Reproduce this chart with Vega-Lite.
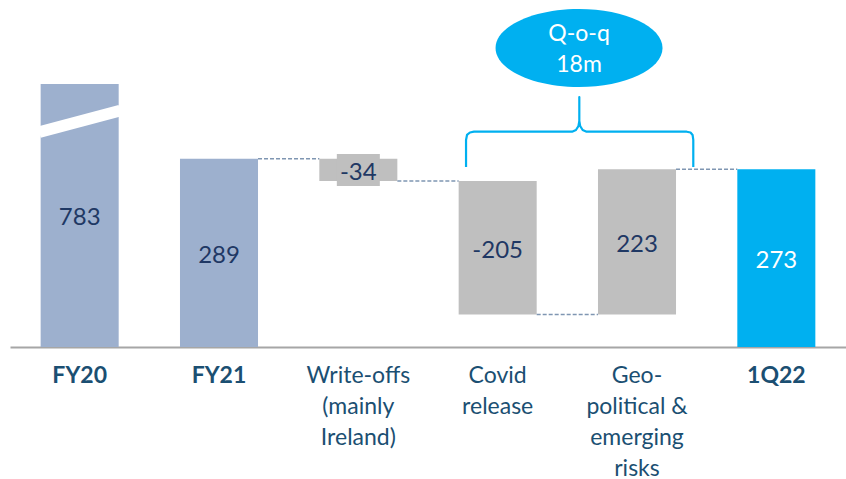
{
  "$schema": "https://vega.github.io/schema/vega-lite/v6.json",
  "width": 836,
  "height": 347,
  "autosize": {"type": "none"},
  "padding": {"left": 10, "top": 0, "right": 0, "bottom": 132},
  "background": "white",
  "config": {
    "view": {"stroke": null},
    "font": "Lato",
    "axis": {
      "domainColor": "#A6A6A6",
      "domainWidth": 2,
      "ticks": false,
      "tickSize": 0,
      "grid": false,
      "labelFont": "Lato",
      "labelFontSize": 23,
      "labelColor": "#1B4F72",
      "labelPadding": 17,
      "labelLineHeight": 31,
      "labelAngle": 0
    }
  },
  "resolve": {"scale": {"x": "independent"}},
  "layer": [
    {
      "data": {
        "values": [
          {"cat": "FY20", "start": 0, "end": 404, "label": "783", "type": "total"},
          {"cat": "FY21", "start": 0, "end": 289, "label": "289", "type": "total"},
          {"cat": "Write-offs (mainly Ireland)", "start": 289, "end": 255, "label": "-34", "type": "change"},
          {"cat": "Covid release", "start": 255, "end": 50, "label": "-205", "type": "change"},
          {"cat": "Geo-political & emerging risks", "start": 50, "end": 273, "label": "223", "type": "change"},
          {"cat": "1Q22", "start": 0, "end": 273, "label": "273", "type": "current"}
        ]
      },
      "transform": [{"calculate": "(datum.start + datum.end) / 2", "as": "mid"}],
      "layer": [
        {
          "mark": {"type": "bar", "opacity": 1},
          "encoding": {
            "x": {
              "field": "cat", "type": "nominal", "title": null,
              "scale": {"type": "band", "domain": ["FY20", "FY21", "Write-offs (mainly Ireland)", "Covid release", "Geo-political & emerging risks", "1Q22"], "paddingInner": 0.44, "paddingOuter": 0.22},
              "axis": {
                "labelExpr": "datum.value == 'Write-offs (mainly Ireland)' ? ['Write-offs','(mainly','Ireland)'] : datum.value == 'Covid release' ? ['Covid','release'] : datum.value == 'Geo-political & emerging risks' ? ['Geo-','political &','emerging','risks'] : datum.label",
                "labelFontWeight": {"condition": {"test": "indexof(['FY20','FY21','1Q22'], datum.value) >= 0", "value": "bold"}, "value": "normal"},
                "labelBaseline": "top"
              }
            },
            "y": {"field": "start", "type": "quantitative", "axis": null, "scale": {"domain": [0, 533], "nice": false, "zero": true}},
            "y2": {"field": "end"},
            "color": {
              "field": "type", "type": "nominal", "legend": null,
              "scale": {"domain": ["total", "change", "current"], "range": ["#9DB0CE", "#BFBFBF", "#00B0F0"]}
            }
          }
        },
        {
          "transform": [{"filter": "datum.cat == 'Write-offs (mainly Ireland)'"}],
          "mark": {"type": "point", "shape": "M-1,-0.744 L1,-0.744 L1,0.744 L-1,0.744 Z", "filled": true, "fill": "#BFBFBF", "opacity": 1, "size": 1849, "strokeWidth": 0},
          "encoding": {
            "x": {"field": "cat", "type": "nominal", "title": null, "scale": {"type": "band", "domain": ["FY20", "FY21", "Write-offs (mainly Ireland)", "Covid release", "Geo-political & emerging risks", "1Q22"], "paddingInner": 0.44, "paddingOuter": 0.22}},
            "y": {"field": "mid", "type": "quantitative", "axis": null, "scale": {"domain": [0, 533], "nice": false, "zero": true}}
          }
        },
        {
          "mark": {"type": "text", "font": "Lato", "fontSize": 24, "baseline": "middle", "align": "center", "dy": 3},
          "encoding": {
            "x": {"field": "cat", "type": "nominal", "title": null, "scale": {"type": "band", "domain": ["FY20", "FY21", "Write-offs (mainly Ireland)", "Covid release", "Geo-political & emerging risks", "1Q22"], "paddingInner": 0.44, "paddingOuter": 0.22}},
            "y": {"field": "mid", "type": "quantitative", "axis": null, "scale": {"domain": [0, 533], "nice": false, "zero": true}},
            "text": {"field": "label"},
            "color": {"condition": {"test": "datum.type == 'current'", "value": "#FFFFFF"}, "value": "#1F3864"}
          }
        },
        {
          "data": {
            "values": [
              {"cat": "FY21", "next": "Write-offs (mainly Ireland)", "level": 289},
              {"cat": "Write-offs (mainly Ireland)", "next": "Covid release", "level": 255},
              {"cat": "Covid release", "next": "Geo-political & emerging risks", "level": 50},
              {"cat": "Geo-political & emerging risks", "next": "1Q22", "level": 273}
            ]
          },
          "mark": {"type": "rule", "color": "#7F96B2", "strokeWidth": 1.5, "strokeDash": [4, 2]},
          "encoding": {
            "x": {"field": "cat", "type": "nominal", "title": null, "bandPosition": 1, "scale": {"type": "band", "domain": ["FY20", "FY21", "Write-offs (mainly Ireland)", "Covid release", "Geo-political & emerging risks", "1Q22"], "paddingInner": 0.44, "paddingOuter": 0.22}},
            "x2": {"field": "next", "bandPosition": 0},
            "y": {"field": "level", "type": "quantitative", "axis": null, "scale": {"domain": [0, 533], "nice": false, "zero": true}}
          }
        }
      ]
    },
    {
      "layer": [
        {
          "data": {"values": [{"bx": -0.29, "by": 330.1}, {"bx": 0.29, "by": 363.1}]},
          "mark": {"type": "line", "color": "#FFFFFF", "strokeWidth": 11.6, "strokeCap": "butt"},
          "encoding": {
            "x": {"field": "bx", "type": "quantitative", "axis": null, "scale": {"domain": [-0.5, 5.5], "nice": false, "zero": false}},
            "y": {"field": "by", "type": "quantitative", "axis": null, "scale": {"domain": [0, 533], "nice": false, "zero": true}}
          }
        },
        {
          "data": {
            "values": [
              {"o": 1, "bx": 2.773, "by": 276.5},
              {"o": 2, "bx": 2.773, "by": 318},
              {"o": 3, "bx": 2.78, "by": 325.7},
              {"o": 4, "bx": 2.801, "by": 329.5},
              {"o": 5, "bx": 2.83, "by": 330.7},
              {"o": 6, "bx": 3.534, "by": 330.7},
              {"o": 7, "bx": 3.562, "by": 333.3},
              {"o": 8, "bx": 3.58, "by": 339.5},
              {"o": 9, "bx": 3.586, "by": 347.2},
              {"o": 10, "bx": 3.586, "by": 384},
              {"o": 11, "bx": 3.586, "by": 347.2},
              {"o": 12, "bx": 3.592, "by": 339.5},
              {"o": 13, "bx": 3.61, "by": 333.3},
              {"o": 14, "bx": 3.638, "by": 330.7},
              {"o": 15, "bx": 4.357, "by": 330.7},
              {"o": 16, "bx": 4.384, "by": 329.5},
              {"o": 17, "bx": 4.399, "by": 325.7},
              {"o": 18, "bx": 4.404, "by": 318},
              {"o": 19, "bx": 4.404, "by": 276.5}
            ]
          },
          "mark": {"type": "line", "color": "#00B0F0", "strokeWidth": 2.2, "strokeJoin": "round"},
          "encoding": {
            "x": {"field": "bx", "type": "quantitative", "axis": null, "scale": {"domain": [-0.5, 5.5], "nice": false, "zero": false}},
            "y": {"field": "by", "type": "quantitative", "axis": null, "scale": {"domain": [0, 533], "nice": false, "zero": true}},
            "order": {"field": "o", "type": "quantitative"}
          }
        },
        {
          "data": {"values": [{"bx": 3.584, "by": 459.3}]},
          "mark": {"type": "point", "shape": "M-1,0 C-1,-0.258 -0.552,-0.467 0,-0.467 C0.552,-0.467 1,-0.258 1,0 C1,0.258 0.552,0.467 0,0.467 C-0.552,0.467 -1,0.258 -1,0 Z", "filled": true, "fill": "#00B0F0", "opacity": 1, "size": 27889, "strokeWidth": 0},
          "encoding": {
            "x": {"field": "bx", "type": "quantitative", "axis": null, "scale": {"domain": [-0.5, 5.5], "nice": false, "zero": false}},
            "y": {"field": "by", "type": "quantitative", "axis": null, "scale": {"domain": [0, 533], "nice": false, "zero": true}}
          }
        },
        {
          "data": {"values": [{"bx": 3.584, "by": 481, "t": "Q-o-q"}, {"bx": 3.584, "by": 433, "t": "18m"}]},
          "mark": {"type": "text", "font": "Lato", "fontSize": 23, "color": "#FFFFFF", "baseline": "middle", "align": "center"},
          "encoding": {
            "x": {"field": "bx", "type": "quantitative", "axis": null, "scale": {"domain": [-0.5, 5.5], "nice": false, "zero": false}},
            "y": {"field": "by", "type": "quantitative", "axis": null, "scale": {"domain": [0, 533], "nice": false, "zero": true}},
            "text": {"field": "t"}
          }
        }
      ]
    }
  ]
}
